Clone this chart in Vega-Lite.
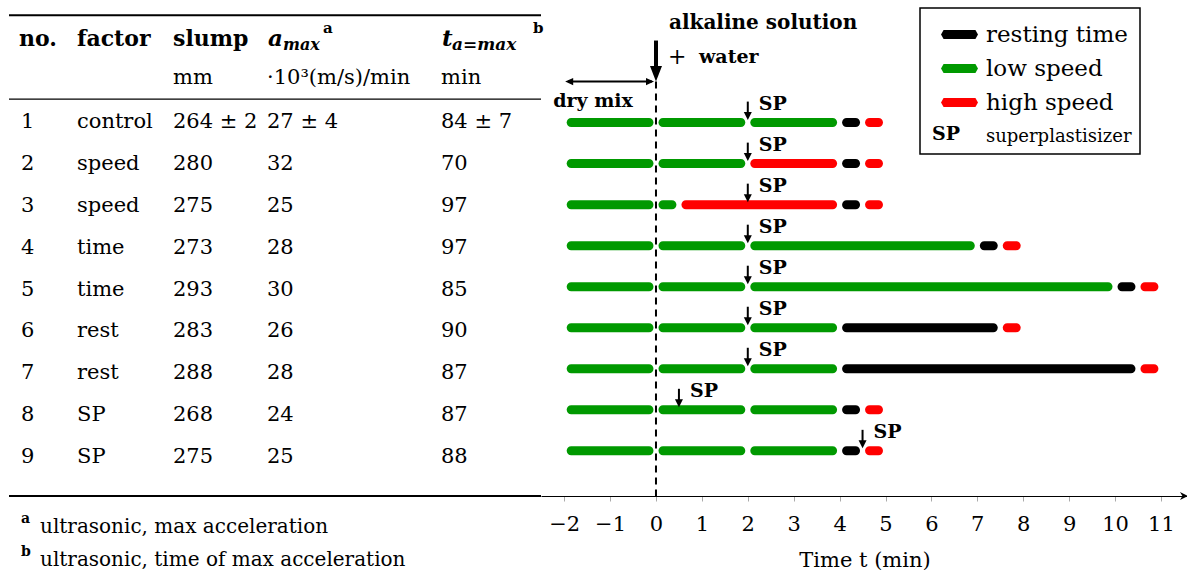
{
  "$schema": "https://vega.github.io/schema/vega-lite/v6.json",
  "background": "white",
  "padding": {"left": 8, "top": 0, "right": 0, "bottom": 0},
  "config": {
    "view": {"stroke": null},
    "font": "DejaVu Serif",
    "text": {"font": "DejaVu Serif", "color": "black"},
    "concat": {"spacing": 0}
  },
  "datasets": {
    "table": [
      {"no": 1, "factor": "control", "slump": "264 ± 2", "amax": "27 ± 4", "tmax": "84 ± 7"},
      {"no": 2, "factor": "speed", "slump": "280", "amax": "32", "tmax": "70"},
      {"no": 3, "factor": "speed", "slump": "275", "amax": "25", "tmax": "97"},
      {"no": 4, "factor": "time", "slump": "273", "amax": "28", "tmax": "97"},
      {"no": 5, "factor": "time", "slump": "293", "amax": "30", "tmax": "85"},
      {"no": 6, "factor": "rest", "slump": "283", "amax": "26", "tmax": "90"},
      {"no": 7, "factor": "rest", "slump": "288", "amax": "28", "tmax": "87"},
      {"no": 8, "factor": "SP", "slump": "268", "amax": "24", "tmax": "87"},
      {"no": 9, "factor": "SP", "slump": "275", "amax": "25", "tmax": "88"}
    ],
    "header": [
      {"col": "no", "name": "no."},
      {"col": "factor", "name": "factor"},
      {"col": "slump", "name": "slump", "unit": "mm"},
      {"col": "amax", "name": "a", "sub": "max", "note": "a", "unit": "·10³(m/s)/min"},
      {"col": "tmax", "name": "t", "sub": "a=max", "note": "b", "unit": "min"}
    ],
    "notes": [
      {"note": "a", "text": "ultrasonic, max acceleration"},
      {"note": "b", "text": "ultrasonic, time of max acceleration"}
    ],
    "segments": [
      {"row": 1, "start": -2, "end": 0, "phase": "low speed"},
      {"row": 1, "start": 0, "end": 2, "phase": "low speed"},
      {"row": 1, "start": 2, "end": 4, "phase": "low speed"},
      {"row": 1, "start": 4, "end": 4.5, "phase": "resting time"},
      {"row": 1, "start": 4.5, "end": 5, "phase": "high speed"},
      {"row": 2, "start": -2, "end": 0, "phase": "low speed"},
      {"row": 2, "start": 0, "end": 2, "phase": "low speed"},
      {"row": 2, "start": 2, "end": 4, "phase": "high speed"},
      {"row": 2, "start": 4, "end": 4.5, "phase": "resting time"},
      {"row": 2, "start": 4.5, "end": 5, "phase": "high speed"},
      {"row": 3, "start": -2, "end": 0, "phase": "low speed"},
      {"row": 3, "start": 0, "end": 0.5, "phase": "low speed"},
      {"row": 3, "start": 0.5, "end": 4, "phase": "high speed"},
      {"row": 3, "start": 4, "end": 4.5, "phase": "resting time"},
      {"row": 3, "start": 4.5, "end": 5, "phase": "high speed"},
      {"row": 4, "start": -2, "end": 0, "phase": "low speed"},
      {"row": 4, "start": 0, "end": 2, "phase": "low speed"},
      {"row": 4, "start": 2, "end": 7, "phase": "low speed"},
      {"row": 4, "start": 7, "end": 7.5, "phase": "resting time"},
      {"row": 4, "start": 7.5, "end": 8, "phase": "high speed"},
      {"row": 5, "start": -2, "end": 0, "phase": "low speed"},
      {"row": 5, "start": 0, "end": 2, "phase": "low speed"},
      {"row": 5, "start": 2, "end": 10, "phase": "low speed"},
      {"row": 5, "start": 10, "end": 10.5, "phase": "resting time"},
      {"row": 5, "start": 10.5, "end": 11, "phase": "high speed"},
      {"row": 6, "start": -2, "end": 0, "phase": "low speed"},
      {"row": 6, "start": 0, "end": 2, "phase": "low speed"},
      {"row": 6, "start": 2, "end": 4, "phase": "low speed"},
      {"row": 6, "start": 4, "end": 7.5, "phase": "resting time"},
      {"row": 6, "start": 7.5, "end": 8, "phase": "high speed"},
      {"row": 7, "start": -2, "end": 0, "phase": "low speed"},
      {"row": 7, "start": 0, "end": 2, "phase": "low speed"},
      {"row": 7, "start": 2, "end": 4, "phase": "low speed"},
      {"row": 7, "start": 4, "end": 10.5, "phase": "resting time"},
      {"row": 7, "start": 10.5, "end": 11, "phase": "high speed"},
      {"row": 8, "start": -2, "end": 0, "phase": "low speed"},
      {"row": 8, "start": 0, "end": 2, "phase": "low speed"},
      {"row": 8, "start": 2, "end": 4, "phase": "low speed"},
      {"row": 8, "start": 4, "end": 4.5, "phase": "resting time"},
      {"row": 8, "start": 4.5, "end": 5, "phase": "high speed"},
      {"row": 9, "start": -2, "end": 0, "phase": "low speed"},
      {"row": 9, "start": 0, "end": 2, "phase": "low speed"},
      {"row": 9, "start": 2, "end": 4, "phase": "low speed"},
      {"row": 9, "start": 4, "end": 4.5, "phase": "resting time"},
      {"row": 9, "start": 4.5, "end": 5, "phase": "high speed"}
    ],
    "sp": [
      {"row": 1, "t": 2}, {"row": 2, "t": 2}, {"row": 3, "t": 2},
      {"row": 4, "t": 2}, {"row": 5, "t": 2}, {"row": 6, "t": 2},
      {"row": 7, "t": 2}, {"row": 8, "t": 0.5}, {"row": 9, "t": 4.5}
    ]
  },
  "bounds": "flush",
  "spacing": 0,
  "hconcat": [
    {
      "width": 68, "height": 496,
      "layer": [
        {"data": {"values": [{}]}, "mark": {"type": "rule", "strokeWidth": 2, "color": "black"},
         "encoding": {"y": {"datum": -1.5, "type": "quantitative", "scale": {"domain": [-1.866, 9.979], "reverse": true, "nice": false, "zero": false}, "axis": null}}},
        {"data": {"values": [{}]}, "mark": {"type": "rule", "strokeWidth": 1.3, "color": "black"}, "encoding": {"y": {"datum": 0.5, "type": "quantitative"}}},
        {"data": {"values": [{}]}, "mark": {"type": "rule", "strokeWidth": 2, "color": "black"}, "encoding": {"y": {"value": "height"}}},
        {"data": {"name": "table"}, "mark": {"type": "text", "align": "left", "baseline": "middle", "fontSize": 21, "dx": 12, "dy": 2},
         "encoding": {"x": {"value": 0}, "y": {"field": "no", "type": "quantitative"}, "text": {"field": "no"}}},
        {"data": {"name": "header"}, "transform": [{"filter": "datum.col === 'no'"}],
         "mark": {"type": "text", "align": "left", "baseline": "middle", "fontSize": 22, "fontWeight": "bold", "dx": 10, "dy": 3},
         "encoding": {"x": {"value": 0}, "y": {"datum": -1, "type": "quantitative"}, "text": {"field": "name"}}},
        {"data": {"name": "notes"},
         "mark": {"type": "text", "align": "left", "baseline": "middle", "fontSize": 20, "dx": 31},
         "encoding": {"x": {"value": 0}, "y": {"value": "height"}, "yOffset": {"field": "note", "type": "nominal", "scale": {"type": "point", "padding": 0, "domain": ["a", "b"], "range": [31, 64]}}, "text": {"field": "text"}}},
        {"data": {"name": "notes"},
         "mark": {"type": "text", "align": "left", "baseline": "middle", "fontSize": 14, "fontWeight": "bold", "dx": 12, "dy": -8},
         "encoding": {"x": {"value": 0}, "y": {"value": "height"}, "yOffset": {"field": "note", "type": "nominal", "scale": {"type": "point", "padding": 0, "domain": ["a", "b"], "range": [31, 64]}}, "text": {"field": "note"}}}
      ]
    },
    {
      "width": 96, "height": 496,
      "layer": [
        {"data": {"values": [{}]}, "mark": {"type": "rule", "strokeWidth": 2, "color": "black"},
         "encoding": {"y": {"datum": -1.5, "type": "quantitative", "scale": {"domain": [-1.866, 9.979], "reverse": true, "nice": false, "zero": false}, "axis": null}}},
        {"data": {"values": [{}]}, "mark": {"type": "rule", "strokeWidth": 1.3, "color": "black"}, "encoding": {"y": {"datum": 0.5, "type": "quantitative"}}},
        {"data": {"values": [{}]}, "mark": {"type": "rule", "strokeWidth": 2, "color": "black"}, "encoding": {"y": {"value": "height"}}},
        {"data": {"name": "table"}, "mark": {"type": "text", "align": "left", "baseline": "middle", "fontSize": 21, "dy": 2},
         "encoding": {"x": {"value": 0}, "y": {"field": "no", "type": "quantitative"}, "text": {"field": "factor"}}},
        {"data": {"name": "header"}, "transform": [{"filter": "datum.col === 'factor'"}],
         "mark": {"type": "text", "align": "left", "baseline": "middle", "fontSize": 22, "fontWeight": "bold", "dy": 3},
         "encoding": {"x": {"value": 0}, "y": {"datum": -1, "type": "quantitative"}, "text": {"field": "name"}}}
      ]
    },
    {
      "width": 94, "height": 496,
      "layer": [
        {"data": {"values": [{}]}, "mark": {"type": "rule", "strokeWidth": 2, "color": "black"},
         "encoding": {"y": {"datum": -1.5, "type": "quantitative", "scale": {"domain": [-1.866, 9.979], "reverse": true, "nice": false, "zero": false}, "axis": null}}},
        {"data": {"values": [{}]}, "mark": {"type": "rule", "strokeWidth": 1.3, "color": "black"}, "encoding": {"y": {"datum": 0.5, "type": "quantitative"}}},
        {"data": {"values": [{}]}, "mark": {"type": "rule", "strokeWidth": 2, "color": "black"}, "encoding": {"y": {"value": "height"}}},
        {"data": {"name": "table"}, "mark": {"type": "text", "align": "left", "baseline": "middle", "fontSize": 21, "dy": 2},
         "encoding": {"x": {"value": 0}, "y": {"field": "no", "type": "quantitative"}, "text": {"field": "slump"}}},
        {"data": {"name": "header"}, "transform": [{"filter": "datum.col === 'slump'"}],
         "mark": {"type": "text", "align": "left", "baseline": "middle", "fontSize": 22, "fontWeight": "bold", "dy": 3},
         "encoding": {"x": {"value": 0}, "y": {"datum": -1, "type": "quantitative"}, "text": {"field": "name"}}},
        {"data": {"name": "header"}, "transform": [{"filter": "datum.col === 'slump'"}],
         "mark": {"type": "text", "align": "left", "baseline": "middle", "fontSize": 21},
         "encoding": {"x": {"value": 0}, "y": {"datum": 0, "type": "quantitative"}, "text": {"field": "unit"}}}
      ]
    },
    {
      "width": 174, "height": 496,
      "layer": [
        {"data": {"values": [{}]}, "mark": {"type": "rule", "strokeWidth": 2, "color": "black"},
         "encoding": {"y": {"datum": -1.5, "type": "quantitative", "scale": {"domain": [-1.866, 9.979], "reverse": true, "nice": false, "zero": false}, "axis": null}}},
        {"data": {"values": [{}]}, "mark": {"type": "rule", "strokeWidth": 1.3, "color": "black"}, "encoding": {"y": {"datum": 0.5, "type": "quantitative"}}},
        {"data": {"values": [{}]}, "mark": {"type": "rule", "strokeWidth": 2, "color": "black"}, "encoding": {"y": {"value": "height"}}},
        {"data": {"name": "table"}, "mark": {"type": "text", "align": "left", "baseline": "middle", "fontSize": 21, "dy": 2},
         "encoding": {"x": {"value": 0}, "y": {"field": "no", "type": "quantitative"}, "text": {"field": "amax"}}},
        {"data": {"name": "header"}, "transform": [{"filter": "datum.col === 'amax'"}],
         "mark": {"type": "text", "align": "left", "baseline": "middle", "fontSize": 23, "fontWeight": "bold", "fontStyle": "italic", "dx": 1, "dy": 3},
         "encoding": {"x": {"value": 0}, "y": {"datum": -1, "type": "quantitative"}, "text": {"field": "name"}}},
        {"data": {"name": "header"}, "transform": [{"filter": "datum.col === 'amax'"}],
         "mark": {"type": "text", "align": "left", "baseline": "middle", "fontSize": 16, "fontWeight": "bold", "fontStyle": "italic", "dx": 16, "dy": 9},
         "encoding": {"x": {"value": 0}, "y": {"datum": -1, "type": "quantitative"}, "text": {"field": "sub"}}},
        {"data": {"name": "header"}, "transform": [{"filter": "datum.col === 'amax'"}],
         "mark": {"type": "text", "align": "left", "baseline": "middle", "fontSize": 15, "fontWeight": "bold", "dx": 56, "dy": -8},
         "encoding": {"x": {"value": 0}, "y": {"datum": -1, "type": "quantitative"}, "text": {"field": "note"}}},
        {"data": {"name": "header"}, "transform": [{"filter": "datum.col === 'amax'"}],
         "mark": {"type": "text", "align": "left", "baseline": "middle", "fontSize": 21},
         "encoding": {"x": {"value": 0}, "y": {"datum": 0, "type": "quantitative"}, "text": {"field": "unit"}}}
      ]
    },
    {
      "width": 100, "height": 496,
      "layer": [
        {"data": {"values": [{}]}, "mark": {"type": "rule", "strokeWidth": 2, "color": "black"},
         "encoding": {"y": {"datum": -1.5, "type": "quantitative", "scale": {"domain": [-1.866, 9.979], "reverse": true, "nice": false, "zero": false}, "axis": null}}},
        {"data": {"values": [{}]}, "mark": {"type": "rule", "strokeWidth": 1.3, "color": "black"}, "encoding": {"y": {"datum": 0.5, "type": "quantitative"}}},
        {"data": {"values": [{}]}, "mark": {"type": "rule", "strokeWidth": 2, "color": "black"}, "encoding": {"y": {"value": "height"}}},
        {"data": {"name": "table"}, "mark": {"type": "text", "align": "left", "baseline": "middle", "fontSize": 21, "dy": 2},
         "encoding": {"x": {"value": 0}, "y": {"field": "no", "type": "quantitative"}, "text": {"field": "tmax"}}},
        {"data": {"name": "header"}, "transform": [{"filter": "datum.col === 'tmax'"}],
         "mark": {"type": "text", "align": "left", "baseline": "middle", "fontSize": 23, "fontWeight": "bold", "fontStyle": "italic", "dx": 1, "dy": 3},
         "encoding": {"x": {"value": 0}, "y": {"datum": -1, "type": "quantitative"}, "text": {"field": "name"}}},
        {"data": {"name": "header"}, "transform": [{"filter": "datum.col === 'tmax'"}],
         "mark": {"type": "text", "align": "left", "baseline": "middle", "fontSize": 17, "fontWeight": "bold", "fontStyle": "italic", "dx": 11, "dy": 9},
         "encoding": {"x": {"value": 0}, "y": {"datum": -1, "type": "quantitative"}, "text": {"field": "sub"}}},
        {"data": {"name": "header"}, "transform": [{"filter": "datum.col === 'tmax'"}],
         "mark": {"type": "text", "align": "left", "baseline": "middle", "fontSize": 15, "fontWeight": "bold", "dx": 92, "dy": -8},
         "encoding": {"x": {"value": 0}, "y": {"datum": -1, "type": "quantitative"}, "text": {"field": "note"}}},
        {"data": {"name": "header"}, "transform": [{"filter": "datum.col === 'tmax'"}],
         "mark": {"type": "text", "align": "left", "baseline": "middle", "fontSize": 21},
         "encoding": {"x": {"value": 0}, "y": {"datum": 0, "type": "quantitative"}, "text": {"field": "unit"}}}
      ]
    },
    {
      "width": 647, "height": 496,
      "layer": [
        {"data": {"values": [{}]},
         "mark": {"type": "rule", "strokeDash": [7, 5], "strokeWidth": 2, "color": "black"},
         "encoding": {
           "x": {"datum": 0, "type": "quantitative", "scale": {"domain": [-2.505, 11.59], "nice": false, "zero": false}},
           "y": {"datum": 0, "type": "quantitative", "scale": {"domain": [-1.866, 9.979], "reverse": true, "nice": false, "zero": false}, "axis": null},
           "y2": {"value": "height"}
         }},
        {"data": {"name": "segments"},
         "mark": {"type": "bar", "orient": "horizontal", "size": 9, "cornerRadius": 4.5, "xOffset": 2.5, "x2Offset": -2.5},
         "encoding": {
           "x": {"field": "start", "type": "quantitative",
                 "axis": {"values": [-2, -1, 0, 1, 2, 3, 4, 5, 6, 7, 8, 9, 10, 11], "format": "d", "grid": false,
                          "title": "Time t (min)", "domainColor": "black", "domainWidth": 1.2,
                          "tickColor": "#aaaaaa", "tickWidth": 1, "tickSize": 5,
                          "labelFont": "DejaVu Serif", "labelFontSize": 21, "labelColor": "black", "labelPadding": 12,
                          "titleFont": "DejaVu Serif", "titleFontSize": 21, "titleFontWeight": "normal", "titleColor": "black", "titlePadding": 15,
                          "encode": {"ticks": {"update": {"y": {"value": -5}, "y2": {"value": 5}}}}}},
           "x2": {"field": "end"},
           "y": {"field": "row", "type": "quantitative"},
           "color": {"field": "phase", "type": "nominal",
                     "scale": {"domain": ["resting time", "low speed", "high speed", "superplastisizer"], "range": ["#000000", "#009900", "#ff0000", "rgba(0,0,0,0)"]},
                     "legend": {"orient": "none", "legendX": 911, "legendY": 8,
                                "title": "SP", "titleOrient": "left", "titleAnchor": "end", "titleBaseline": "bottom",
                                "titleFont": "DejaVu Serif", "titleFontSize": 19, "titleFontWeight": "bold", "titleColor": "black", "titlePadding": -16,
                                "symbolType": "M-1,0L-0.86,-0.243L0.86,-0.243L1,0L0.86,0.243L-0.86,0.243Z", "symbolSize": 1369, "symbolStrokeWidth": 0,
                                "labelFont": "DejaVu Serif", "labelFontSize": 23, "labelColor": "black", "labelOffset": 8, "labelLimit": 300,
                                "padding": 8, "rowPadding": 3, "strokeColor": "black", "fillColor": "white",
                                "encode": {"legend": {"update": {"strokeWidth": {"value": 1.5}}},
                                           "title": {"update": {"dx": {"value": 4}, "dy": {"value": -2}}},
                                           "labels": {"update": {"fontSize": {"signal": "datum.value === 'superplastisizer' ? 18 : 23"}}}}}}
         }},
        {"data": {"values": [{}]},
         "mark": {"type": "rule", "strokeWidth": 2, "color": "black", "xOffset": 4, "x2Offset": -4},
         "encoding": {"x": {"datum": -2, "type": "quantitative"}, "x2": {"datum": 0}, "y": {"datum": 0, "type": "quantitative"}}},
        {"data": {"values": [{}]},
         "mark": {"type": "point", "shape": "M0,0L2,-0.9L2,0.9Z", "size": 64, "filled": true, "color": "black", "opacity": 1, "xOffset": 1},
         "encoding": {"x": {"datum": -2, "type": "quantitative"}, "y": {"datum": 0, "type": "quantitative"}}},
        {"data": {"values": [{}]},
         "mark": {"type": "point", "shape": "M0,0L-2,-0.9L-2,0.9Z", "size": 64, "filled": true, "color": "black", "opacity": 1, "xOffset": -2},
         "encoding": {"x": {"datum": 0, "type": "quantitative"}, "y": {"datum": 0, "type": "quantitative"}}},
        {"data": {"values": [{}]},
         "mark": {"type": "text", "text": "dry mix", "align": "center", "baseline": "middle", "fontSize": 19, "fontWeight": "bold", "dx": -17, "dy": 19},
         "encoding": {"x": {"datum": -1, "type": "quantitative"}, "y": {"datum": 0, "type": "quantitative"}}},
        {"data": {"values": [{}]},
         "mark": {"type": "rule", "strokeWidth": 4, "color": "black", "y2Offset": -10},
         "encoding": {"x": {"datum": 0, "type": "quantitative"}, "y": {"datum": -1, "type": "quantitative"}, "y2": {"datum": 0}}},
        {"data": {"values": [{}]},
         "mark": {"type": "point", "shape": "M0,0L-1,-2.6L1,-2.6Z", "size": 144, "filled": true, "color": "black", "opacity": 1},
         "encoding": {"x": {"datum": 0, "type": "quantitative"}, "y": {"datum": 0, "type": "quantitative"}}},
        {"data": {"values": [{}]},
         "mark": {"type": "text", "text": "alkaline solution", "align": "left", "baseline": "middle", "fontSize": 20, "fontWeight": "bold", "dx": 13, "dy": -18},
         "encoding": {"x": {"datum": 0, "type": "quantitative"}, "y": {"datum": -1, "type": "quantitative"}}},
        {"data": {"values": [{}]},
         "mark": {"type": "text", "text": "+", "align": "left", "baseline": "middle", "fontSize": 22, "dx": 12, "dy": 16},
         "encoding": {"x": {"datum": 0, "type": "quantitative"}, "y": {"datum": -1, "type": "quantitative"}}},
        {"data": {"values": [{}]},
         "mark": {"type": "text", "text": "water", "align": "left", "baseline": "middle", "fontSize": 19, "fontWeight": "bold", "dx": 43, "dy": 16},
         "encoding": {"x": {"datum": 0, "type": "quantitative"}, "y": {"datum": -1, "type": "quantitative"}}},
        {"data": {"name": "sp"},
         "mark": {"type": "rule", "strokeWidth": 2, "color": "black", "yOffset": -21, "y2Offset": -8},
         "encoding": {"x": {"field": "t", "type": "quantitative"}, "y": {"field": "row", "type": "quantitative"}, "y2": {"field": "row"}}},
        {"data": {"name": "sp"},
         "mark": {"type": "point", "shape": "M-1,-1L1,-1L0,1Z", "size": 64, "filled": true, "color": "black", "opacity": 1, "yOffset": -6.5},
         "encoding": {"x": {"field": "t", "type": "quantitative"}, "y": {"field": "row", "type": "quantitative"}}},
        {"data": {"name": "sp"},
         "mark": {"type": "text", "text": "SP", "align": "left", "baseline": "alphabetic", "fontSize": 19, "fontWeight": "bold", "dx": 11, "dy": -13},
         "encoding": {"x": {"field": "t", "type": "quantitative"}, "y": {"field": "row", "type": "quantitative"}}},
        {"data": {"values": [{}]},
         "mark": {"type": "point", "shape": "M0,0L-2,-1L-1.4,0L-2,1Z", "size": 64, "filled": true, "color": "black", "opacity": 1},
         "encoding": {"x": {"value": "width"}, "y": {"value": "height"}}}
      ]
    }
  ]
}
